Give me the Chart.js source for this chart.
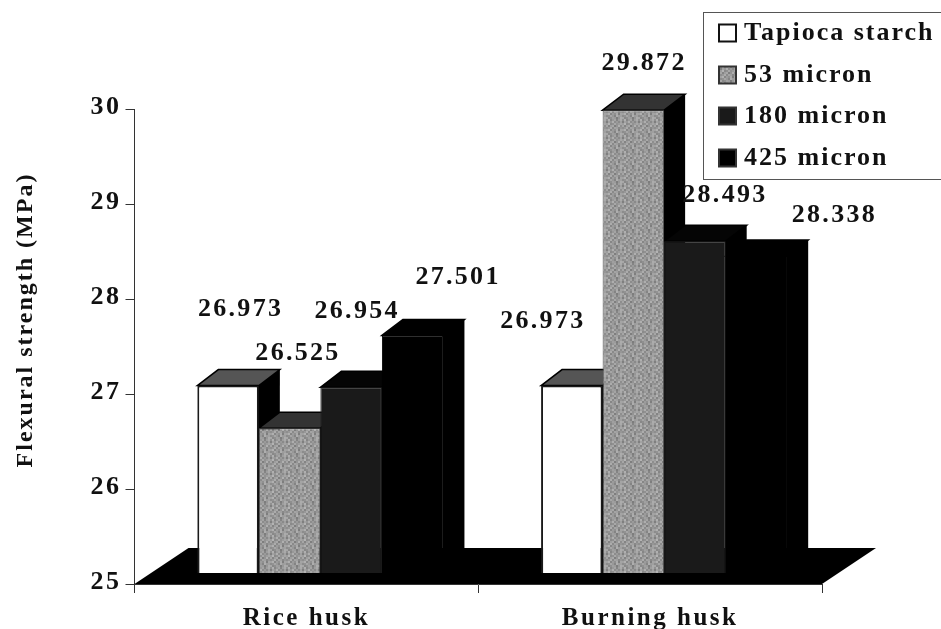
<!DOCTYPE html>
<html>
<head>
<meta charset="utf-8">
<style>
  html, body { margin: 0; padding: 0; background: #fff; }
  #wrap { width: 941px; height: 629px; position: relative; }
</style>
<script src="https://cdn.jsdelivr.net/npm/chart.js@4/dist/chart.umd.min.js"></script>
</head>
<body>
<div id="wrap"><canvas id="chart"></canvas></div>
<script>
const categories = ['Rice husk', 'Burning husk'];
const seriesNames = ['Tapioca starch', '53 micron', '180 micron', '425 micron'];
const tapioca = [26.973, 26.973];
const micron53 = [26.525, 29.872];
const micron180 = [26.954, 28.493];
const micron425 = [27.501, 28.338];
const yTicks = [25, 26, 27, 28, 29, 30];

// hand placed value labels, offset from the front top of each bar [dx, dy]
const labelNudges = [
    [[12.5, -76.6], [-29, -64]],
    [[8.4, -75], [10.7, -47]],
    [[6, -76.4], [30, -46]],
    [[45.4, -58.4], [78, -41]]
];

const SERIF = '"Liberation Serif", "Times New Roman", serif';
const PLANE = { x: 14, y: -11 };   // bars stand this far back on the floor
const BAR_DEPTH = { x: 21, y: -16 };
const FLOOR_DEPTH = { x: 54, y: -36 };

// little fixed tile for the speckled grey of the 53 micron bars
function speckle() {
    const rows = [
        'a7888fa09b7d96ac',
        '90b08698a4849eaa',
        '7fa296ae8c9a8aa0',
        '9cb48a90a8929ca6',
        'a6849ea87e94b08e',
        '8e98ac8aa4a08896',
        'a2b0869c90aa7ea4',
        '8c92a69884ae9ca0'
    ];
    const tile = document.createElement('canvas');
    tile.width = tile.height = 16;
    const t = tile.getContext('2d');
    rows.forEach((row, y) => {
        for (let x = 0; x < 8; x++) {
            const v = row.substr(x * 2, 2);
            t.fillStyle = '#' + v + v + v;
            t.fillRect(x * 2, y * 2, 2, 2);
        }
    });
    return t.createPattern(tile, 'repeat');
}
const grey = speckle();

const fronts = ['#ffffff', grey, '#1a1a1a', '#000000'];
const borders = ['#1a1a1a', '#555555', '#1f1f1f', '#000000'];
const tops = ['#555555', '#333333', '#050505', '#000000'];

function spacedText(ctx, text, x, y, font, spacing, align) {
    ctx.font = font;
    ctx.letterSpacing = spacing + 'px';
    ctx.textAlign = align || 'center';
    ctx.textBaseline = 'middle';
    ctx.fillStyle = '#111';
    ctx.fillText(text, x, y);
}

const bars3d = {
    id: 'bars3d',
    beforeDraw(chart) {
        // the scan is wider than the font, axis labels get the same spacing
        chart.ctx.letterSpacing = '2.5px';
    },
    beforeDatasetsDraw(chart) {
        const ctx = chart.ctx;
        const a = chart.chartArea;

        // floor
        ctx.fillStyle = '#000';
        ctx.beginPath();
        ctx.moveTo(a.left, a.bottom);
        ctx.lineTo(a.right, a.bottom);
        ctx.lineTo(a.right + FLOOR_DEPTH.x, a.bottom + FLOOR_DEPTH.y);
        ctx.lineTo(a.left + FLOOR_DEPTH.x, a.bottom + FLOOR_DEPTH.y);
        ctx.closePath();
        ctx.fill();

        ctx.save();
        ctx.translate(PLANE.x, PLANE.y);
        categories.forEach((c, i) => {
            seriesNames.forEach((s, d) => {
                const bar = chart.getDatasetMeta(d).data[i];
                const half = bar.width / 2;
                const l = bar.x - half, r = bar.x + half;

                // side
                ctx.fillStyle = '#000';
                ctx.beginPath();
                ctx.moveTo(r - 1, bar.y);
                ctx.lineTo(r + BAR_DEPTH.x, bar.y + BAR_DEPTH.y);
                ctx.lineTo(r + BAR_DEPTH.x, a.bottom + BAR_DEPTH.y);
                ctx.lineTo(r - 1, a.bottom);
                ctx.closePath();
                ctx.fill();

                // top
                ctx.fillStyle = tops[d];
                ctx.strokeStyle = '#000';
                ctx.lineWidth = 1.5;
                ctx.beginPath();
                ctx.moveTo(l, bar.y);
                ctx.lineTo(l + BAR_DEPTH.x, bar.y + BAR_DEPTH.y);
                ctx.lineTo(r + BAR_DEPTH.x, bar.y + BAR_DEPTH.y);
                ctx.lineTo(r, bar.y);
                ctx.closePath();
                ctx.fill();
                ctx.stroke();
            });
        });
        // fronts are drawn by the chart itself, on the same shifted plane
    },
    afterDatasetsDraw(chart) {
        const ctx = chart.ctx;
        ctx.restore();

        ctx.save();
        seriesNames.forEach((s, d) => {
            chart.getDatasetMeta(d).data.forEach((bar, i) => {
                const n = labelNudges[d][i];
                const v = chart.data.datasets[d].data[i];
                spacedText(ctx, v.toFixed(3), bar.x + PLANE.x + n[0], bar.y + PLANE.y + n[1],
                    'bold 26px ' + SERIF, 2.3);
            });
        });

        // y axis title sits above the middle of the axis in the original
        ctx.translate(26, 320);
        ctx.rotate(-Math.PI / 2);
        spacedText(ctx, 'Flexural strength (MPa)', 0, 0, 'bold 24px ' + SERIF, 2);
        ctx.restore();

        // legend box
        ctx.save();
        ctx.fillStyle = '#fff';
        ctx.strokeStyle = '#555';
        ctx.lineWidth = 1;
        ctx.fillRect(703.5, 12.5, 250, 167);
        ctx.strokeRect(703.5, 12.5, 250, 167);
        const rows = [33, 75, 116, 158];
        seriesNames.forEach((s, d) => {
            ctx.fillStyle = fronts[d];
            ctx.strokeStyle = d === 0 ? '#111' : '#333';
            ctx.lineWidth = 2;
            ctx.fillRect(719, rows[d] - 8.5, 17, 17);
            ctx.strokeRect(719, rows[d] - 8.5, 17, 17);
            spacedText(ctx, s, 744, rows[d], 'bold 26px ' + SERIF, 2, 'left');
        });
        ctx.restore();
    }
};

new Chart(document.getElementById('chart'), {
    type: 'bar',
    data: {
        labels: categories,
        datasets: [tapioca, micron53, micron180, micron425].map((vals, d) => ({
            label: seriesNames[d],
            data: vals,
            backgroundColor: fronts[d],
            borderColor: borders[d],
            borderWidth: d === 0 ? 2 : 1,
            categoryPercentage: 0.716,
            barPercentage: 1
        }))
    },
    options: {
        responsive: true,
        maintainAspectRatio: false,
        animation: false,
        layout: { padding: { top: 109, right: 119, left: 0, bottom: 0 } },
        plugins: {
            legend: { display: false },
            tooltip: { enabled: false }
        },
        scales: {
            x: {
                grid: { drawOnChartArea: false, drawTicks: true, tickLength: 9, color: '#333' },
                border: { color: '#333', width: 1 },
                ticks: {
                    color: '#111',
                    padding: 11,
                    font: { family: SERIF, size: 25, weight: 'bold' },
                    maxRotation: 0
                },
                afterFit: s => { s.height = 45; }
            },
            y: {
                min: 25,
                max: 30,
                grid: { drawOnChartArea: false, drawTicks: true, tickLength: 9, color: '#333' },
                border: { color: '#333', width: 1 },
                afterBuildTicks: s => { s.ticks = yTicks.map(v => ({ value: v })); },
                ticks: {
                    color: '#111',
                    padding: 4,
                    labelOffset: -2,
                    font: { family: SERIF, size: 26, weight: 'bold' }
                },
                afterFit: s => { s.width = 134.5; }
            }
        }
    },
    plugins: [bars3d]
});
</script>
</body>
</html>
